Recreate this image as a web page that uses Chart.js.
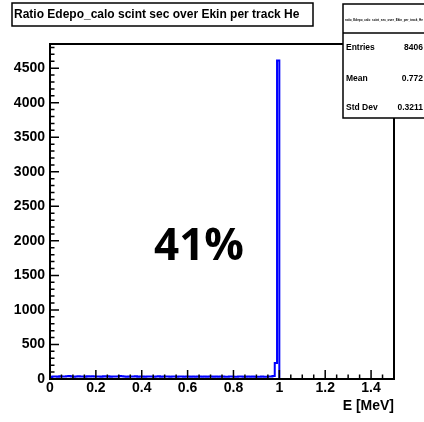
<!DOCTYPE html>
<html>
<head>
<meta charset="utf-8">
<script src="https://cdn.jsdelivr.net/npm/chart.js@4/dist/chart.umd.min.js"></script>
<style>
  html, body { margin: 0; padding: 0; background: #fff; }
  #wrap { width: 424px; height: 422px; position: relative; }
</style>
</head>
<body>
<div id="wrap"><canvas id="histo"></canvas></div>
<script>
// text pieces
const titleText = 'Ratio Edepo_calo scint sec over Ekin per track He';
const histName = 'ratio_Edepo_calo_scint_sec_over_Ekin_per_track_He';
const statLabels = ['Entries', 'Mean', 'Std Dev'];
const statValues = ['8406', '0.772', '0.3211'];
const bigLabel = '41%';
const xTitle = 'E [MeV]';

// axis ticks
const xTicks = [0, 0.2, 0.4, 0.6, 0.8, 1, 1.2, 1.4];
const yTicks = [0, 500, 1000, 1500, 2000, 2500, 3000, 3500, 4000, 4500];

// histogram: 150 bins of 0.01 from 0 to 1.5
const counts = [
  30, 36, 38, 34, 40, 37, 35, 39, 42, 36, 33, 38, 41, 35, 37, 34, 39, 36, 40, 38,
  35, 37, 33, 39, 36, 41, 34, 38, 36, 35, 44, 40, 37, 33, 36, 38, 35, 39, 34, 37,
  36, 33, 38, 35, 37, 34, 36, 39, 33, 35, 38, 36, 34, 37, 35, 33, 36, 38, 34, 35,
  37, 34, 36, 33, 35, 38, 34, 36, 33, 37, 35, 34, 36, 33, 35, 37, 34, 32, 35, 36,
  34, 33, 36, 35, 32, 34, 36, 33, 35, 34, 31, 33, 35, 32, 34, 36, 38, 45, 232, 4610,
  0, 0, 0, 0, 0, 0, 0, 0, 0, 0, 0, 0, 0, 0, 0, 0, 0, 0, 0, 0,
  0, 0, 0, 0, 0, 0, 0, 0, 0, 0, 0, 0, 0, 0, 0, 0, 0, 0, 0, 0,
  0, 0, 0, 0, 0, 0, 0, 0, 0, 0
];
const xMin = 0, xMax = 1.5, binWidth = 0.01;
const yMax = 4850;
const xMinorStep = 0.05, yMinorStep = 100;

// low edge of every bin, plus the closing point at the upper edge
const points = counts.map((c, i) => ({ x: xMin + i * binWidth, y: c }));
points.push({ x: xMax, y: counts[counts.length - 1] });

const boldFont = '"Liberation Sans", Arial, sans-serif';

function isMajor(list, v) {
  return list.some(t => Math.abs(t - v) < 1e-6);
}

const rootStyle = {
  id: 'rootStyle',
  afterDatasetsDraw(chart) {
    const { ctx, chartArea: a, scales: { x, y } } = chart;
    ctx.save();
    ctx.strokeStyle = '#000';
    ctx.lineWidth = 1.5;
    ctx.beginPath();
    // ticks pointing into the frame
    for (let i = 0; i * xMinorStep <= xMax + 1e-9; i++) {
      const v = xMin + i * xMinorStep;
      const px = x.getPixelForValue(v);
      const len = isMajor(xTicks, v) ? 9 : 4.5;
      ctx.moveTo(px, a.bottom);
      ctx.lineTo(px, a.bottom - len);
    }
    for (let i = 0; i * yMinorStep <= yMax + 1e-9; i++) {
      const v = i * yMinorStep;
      const py = y.getPixelForValue(v);
      const len = isMajor(yTicks, v) ? 9 : 4.5;
      ctx.moveTo(a.left, py);
      ctx.lineTo(a.left + len, py);
    }
    ctx.stroke();

    // frame
    ctx.lineWidth = 2;
    ctx.strokeRect(a.left, a.top, a.right - a.left, a.bottom - a.top);
    ctx.restore();
  },
  afterDraw(chart) {
    const { ctx } = chart;
    ctx.save();

    // title box
    ctx.fillStyle = '#fff';
    ctx.fillRect(12, 3, 301, 23);
    ctx.strokeStyle = '#000';
    ctx.lineWidth = 1.5;
    ctx.strokeRect(12, 3, 301, 23);
    ctx.fillStyle = '#000';
    ctx.font = 'bold 12px ' + boldFont;
    ctx.textAlign = 'left';
    ctx.textBaseline = 'middle';
    ctx.fillText(titleText, 14, 15, 296);

    // stats box
    ctx.fillStyle = '#fff';
    ctx.fillRect(343, 4, 90, 114);
    ctx.strokeRect(343, 4, 90, 114);
    ctx.beginPath();
    ctx.moveTo(343, 33);
    ctx.lineTo(424, 33);
    ctx.stroke();
    ctx.fillStyle = '#000';
    ctx.font = 'bold 4px ' + boldFont;
    ctx.fillText(histName, 345, 20, 78);
    ctx.font = 'bold 8.5px ' + boldFont;
    const rows = [48, 79, 108];
    statLabels.forEach((lab, i) => {
      ctx.textAlign = 'left';
      ctx.fillText(lab, 346, rows[i]);
      ctx.textAlign = 'right';
      ctx.fillText(statValues[i], 423, rows[i]);
    });

    // big annotation
    ctx.font = 'bold 44px "Open Sans", Lato, sans-serif';
    ctx.textAlign = 'center';
    ctx.textBaseline = 'alphabetic';
    ctx.fillText(bigLabel, 199, 260);
    ctx.restore();
  }
};

new Chart(document.getElementById('histo'), {
  type: 'line',
  data: {
    datasets: [{
      data: points,
      stepped: 'before',
      borderColor: '#0000ff',
      borderWidth: 2,
      pointRadius: 0,
      fill: false,
      clip: false
    }]
  },
  options: {
    responsive: true,
    maintainAspectRatio: false,
    animation: false,
    events: [],
    layout: { padding: { top: 44, right: 30, left: 0, bottom: 0 } },
    plugins: { legend: { display: false }, tooltip: { enabled: false } },
    scales: {
      x: {
        type: 'linear',
        min: xMin,
        max: xMax,
        afterBuildTicks: s => { s.ticks = xTicks.map(v => ({ value: v })); },
        afterFit: s => { s.height = 43; },
        grid: { display: false, drawTicks: false },
        border: { display: false },
        ticks: {
          padding: 1,
          color: '#000',
          font: { family: boldFont, size: 14, weight: 'bold' },
          callback: v => String(v),
          maxRotation: 0,
          autoSkip: false
        },
        title: {
          display: true,
          text: xTitle,
          align: 'end',
          color: '#000',
          font: { family: boldFont, size: 14, weight: 'bold' },
          padding: { top: 0, bottom: 7 }
        }
      },
      y: {
        type: 'linear',
        min: 0,
        max: yMax,
        afterBuildTicks: s => { s.ticks = yTicks.map(v => ({ value: v })); },
        afterFit: s => { s.width = 50; },
        grid: { display: false, drawTicks: false },
        border: { display: false },
        ticks: {
          padding: 5,
          color: '#000',
          font: { family: boldFont, size: 14, weight: 'bold' },
          callback: v => String(v),
          autoSkip: false
        }
      }
    }
  },
  plugins: [rootStyle]
});
</script>
</body>
</html>
